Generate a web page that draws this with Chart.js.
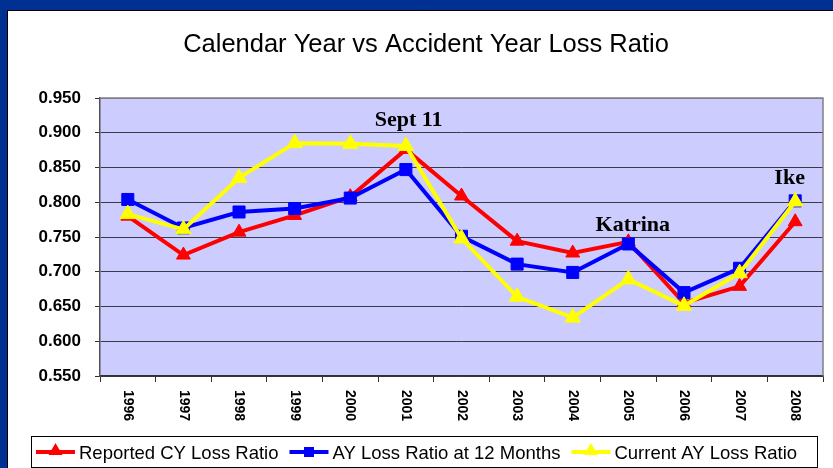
<!DOCTYPE html>
<html>
<style>
body {
    margin: 0;
    background-color: white;
}
</style>
  <head>
    <meta charset="utf-8">
    <title>Loss Ratio</title>
  </head>
  <body>
    <canvas id="myChart" width="833" height="468"></canvas>

    <script src="https://cdn.jsdelivr.net/npm/chart.js"></script>
    <script type="text/javascript">
      // data
      const years = ['1996', '1997', '1998', '1999', '2000', '2001', '2002', '2003', '2004', '2005', '2006', '2007', '2008'];
      const reportedCY = [0.780, 0.724, 0.757, 0.781, 0.808, 0.876, 0.809, 0.744, 0.727, 0.743, 0.655, 0.679, 0.772];
      const ay12Months = [0.804, 0.763, 0.786, 0.791, 0.806, 0.847, 0.751, 0.711, 0.699, 0.740, 0.670, 0.705, 0.802];
      const currentAY = [0.783, 0.761, 0.835, 0.885, 0.884, 0.881, 0.748, 0.664, 0.634, 0.689, 0.651, 0.698, 0.801];
      const yTicks = [0.55, 0.60, 0.65, 0.70, 0.75, 0.80, 0.85, 0.90, 0.95];

      // event notes: text, x position (category index), y value at the baseline
      const noteText = ['Sept 11', 'Katrina', 'Ike'];
      const noteX = [5.05, 9.08, 11.9];
      const noteY = [0.909, 0.759, 0.826];

      const chartTitle = 'Calendar Year vs Accident Year Loss Ratio';

      const sansFont = "'Liberation Sans', Arial, sans-serif";

      function triangle(c, x, y, r) {
        c.beginPath();
        c.moveTo(x, y - r);
        c.lineTo(x + r * 0.866, y + r * 0.5);
        c.lineTo(x - r * 0.866, y + r * 0.5);
        c.closePath();
        c.fill();
      }

      const decoration = {
        id: 'decoration',
        beforeDraw(chart) {
          const c = chart.ctx;
          const a = chart.chartArea;
          c.save();
          // blue slide frame
          c.fillStyle = '#003192';
          c.fillRect(0, 0, chart.width, chart.height);
          c.fillStyle = '#ffffff';
          c.fillRect(8, 11, chart.width - 8, chart.height - 11);
          c.strokeStyle = '#000000';
          c.lineWidth = 1;
          c.beginPath();
          c.moveTo(7.5, chart.height);
          c.lineTo(7.5, 10.5);
          c.lineTo(chart.width, 10.5);
          c.stroke();
          // plot background
          c.fillStyle = '#ccccfe';
          c.fillRect(a.left, a.top, a.right - a.left, a.bottom - a.top);
          c.restore();
        },
        afterDatasetsDraw(chart) {
          const c = chart.ctx;
          const a = chart.chartArea;
          c.save();
          // plot border top and right
          c.strokeStyle = '#808080';
          c.lineWidth = 1.5;
          c.beginPath();
          c.moveTo(a.left, a.top);
          c.lineTo(a.right, a.top);
          c.lineTo(a.right, a.bottom);
          c.stroke();
          c.restore();
        },
        afterDraw(chart) {
          const c = chart.ctx;
          const a = chart.chartArea;
          const xs = chart.scales.x;
          const ys = chart.scales.y;
          c.save();

          // title
          c.fillStyle = '#000000';
          c.font = '25.5px ' + sansFont;
          c.textAlign = 'center';
          c.textBaseline = 'alphabetic';
          c.fillText(chartTitle, 426, 52);

          // year labels, rotated clockwise
          c.font = 'bold 14px ' + sansFont;
          c.textAlign = 'left';
          c.textBaseline = 'middle';
          years.forEach((y, i) => {
            const px = xs.getPixelForValue(i);
            c.save();
            c.translate(px, a.bottom + 14);
            c.rotate(Math.PI / 2);
            c.fillText(y, 0, 0);
            c.restore();
          });

          // event notes
          c.font = 'bold 22px "Liberation Serif", "Times New Roman", serif';
          c.textAlign = 'center';
          c.textBaseline = 'alphabetic';
          noteText.forEach((t, i) => {
            c.fillText(t, xs.getPixelForValue(noteX[i]), ys.getPixelForValue(noteY[i]));
          });

          // legend
          c.strokeStyle = '#000000';
          c.lineWidth = 1;
          c.strokeRect(31.5, 436.5, 786, 31);
          c.font = '18.5px ' + sansFont;
          c.textAlign = 'left';
          c.textBaseline = 'alphabetic';
          let lx = 36;
          const ly = 452;
          chart.data.datasets.forEach(ds => {
            c.strokeStyle = ds.borderColor;
            c.fillStyle = ds.borderColor;
            c.lineWidth = 4;
            c.beginPath();
            c.moveTo(lx, ly);
            c.lineTo(lx + 39, ly);
            c.stroke();
            if (ds.pointStyle === 'rect') {
              c.fillRect(lx + 14.5, ly - 5, 10, 10);
            } else {
              triangle(c, lx + 19.5, ly - 1, 8);
            }
            c.fillStyle = '#000000';
            c.fillText(ds.label, lx + 43, ly + 7);
            lx += 43 + c.measureText(ds.label).width + 11;
          });
          c.restore();
        }
      };

      var ctx = document.getElementById('myChart').getContext('2d');
      var chart = new Chart(ctx, {
          type: 'line',
          data: {
              labels: years,
              datasets: [{
                  label: 'Reported CY Loss Ratio',
                  data: reportedCY,
                  borderColor: '#ff0000',
                  backgroundColor: '#ff0000',
                  pointStyle: 'triangle',
                  pointRadius: 8,
                  order: 3
              }, {
                  label: 'AY Loss Ratio at 12 Months',
                  data: ay12Months,
                  borderColor: '#0000ff',
                  backgroundColor: '#0000ff',
                  pointStyle: 'rect',
                  pointRadius: 8.5,
                  order: 2
              }, {
                  label: 'Current AY Loss Ratio',
                  data: currentAY,
                  borderColor: '#ffff00',
                  backgroundColor: '#ffff00',
                  pointStyle: 'triangle',
                  pointRadius: 9,
                  order: 1
              }]
          },
          options: {
            responsive: false,
            animation: false,
            devicePixelRatio: 1,
            layout: { padding: { top: 98, right: 9, left: 0, bottom: 0 } },
            elements: {
              line: { borderWidth: 4, tension: 0 },
              point: { borderWidth: 1 }
            },
            plugins: {
              legend: { display: false },
              title: { display: false },
              tooltip: { enabled: false }
            },
            scales: {
              x: {
                offset: true,
                afterFit: s => { s.height = 92; },
                grid: {
                  offset: true,
                  drawOnChartArea: false,
                  drawTicks: true,
                  tickLength: 6,
                  color: '#303030',
                  lineWidth: 1
                },
                border: { color: '#303030', width: 1.5 },
                ticks: { display: false, autoSkip: false }
              },
              y: {
                min: 0.55,
                max: 0.95,
                afterFit: s => { s.width = 100; },
                afterBuildTicks: s => { s.ticks = yTicks.map(v => ({ value: v })); },
                grid: {
                  color: c => (c.tick && c.tick.value === 0.95) ? '#808080' : '#3a3a48',
                  tickColor: '#303030',
                  tickLength: 5,
                  lineWidth: 1
                },
                border: { color: '#505050', width: 1.5 },
                ticks: {
                  padding: 14,
                  color: '#000000',
                  font: { family: sansFont, size: 17, weight: 'bold' },
                  callback: v => v.toFixed(3)
                }
              }
            }
          },
          plugins: [decoration]
      });
    </script>
  </body>
</html>
